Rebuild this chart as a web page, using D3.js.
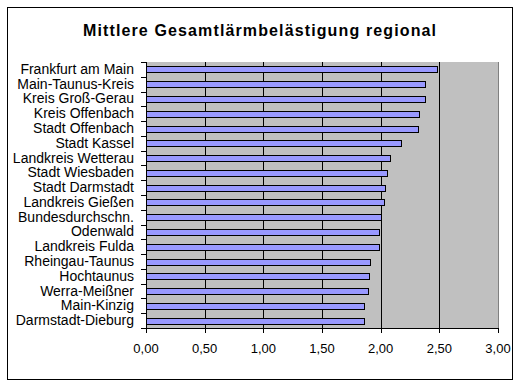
<!DOCTYPE html>
<html><head><meta charset="utf-8">
<script src="https://cdn.jsdelivr.net/npm/d3@7"></script>
<style>body{margin:0;background:#fff}svg{display:block}text{font-family:Arial,"Liberation Sans",sans-serif}</style>
</head><body><svg id="c" width="522" height="386"></svg>
<script>
const categories = ["Frankfurt am Main","Main-Taunus-Kreis","Kreis Groß-Gerau","Kreis Offenbach","Stadt Offenbach","Stadt Kassel","Landkreis Wetterau","Stadt Wiesbaden","Stadt Darmstadt","Landkreis Gießen","Bundesdurchschn.","Odenwald","Landkreis Fulda","Rheingau-Taunus","Hochtaunus","Werra-Meißner","Main-Kinzig","Darmstadt-Dieburg"];
const values = [2.48,2.38,2.38,2.33,2.32,2.17,2.08,2.05,2.04,2.03,2.00,1.99,1.99,1.91,1.90,1.89,1.86,1.86];
const xTicks = [0,0.5,1,1.5,2,2.5,3];
const title = "Mittlere Gesamtlärmbelästigung regional";

const svg = d3.select("#c");
const L=146, R=498, T=62, B=328;
const x = d3.scaleLinear().domain([0,3]).range([L,R]);
const y = d3.scaleBand().domain(categories).range([T,B]).paddingInner(0.6).paddingOuter(0.3);

svg.append("rect").attr("x",7.5).attr("y",7.5).attr("width",505).attr("height",372)
  .attr("fill","#fff").attr("stroke","#000");
svg.append("text").attr("x",259.5).attr("y",36).attr("text-anchor","middle")
  .attr("font-size",16).attr("font-weight","bold").attr("textLength",353).text(title);

svg.append("rect").attr("x",L).attr("y",T).attr("width",R-L).attr("height",B-T).attr("fill","#C0C0C0");
svg.append("line").attr("x1",R+0.5).attr("x2",R+0.5).attr("y1",T).attr("y2",B).attr("stroke","#808080");
svg.selectAll(".g").data(xTicks.filter(d=>d>0&&d<3)).join("line")
  .attr("x1",d=>Math.round(x(d))+0.5).attr("x2",d=>Math.round(x(d))+0.5)
  .attr("y1",T).attr("y2",B).attr("stroke","#000");

svg.selectAll(".bar").data(values).join("rect")
  .attr("x",L+0.5).attr("y",(d,i)=>Math.round(y(categories[i]))+0.5)
  .attr("width",d=>Math.round(x(d))-L).attr("height",Math.round(y.bandwidth()))
  .attr("fill","#9999FF").attr("stroke","#000");

// y axis
svg.append("line").attr("x1",L+0.5).attr("x2",L+0.5).attr("y1",T).attr("y2",B+1).attr("stroke","#000");
const step=y.step();
svg.selectAll(".yt").data(d3.range(categories.length+1)).join("line")
  .attr("x1",L-5).attr("x2",L).attr("y1",i=>Math.round(T+i*step)+0.5).attr("y2",i=>Math.round(T+i*step)+0.5).attr("stroke","#000");
svg.selectAll(".yl").data(categories).join("text")
  .attr("x",134).attr("y",d=>y(d)+y.bandwidth()/2+4.5).attr("text-anchor","end").attr("font-size",14).text(d=>d);

// x axis
svg.append("line").attr("x1",L).attr("x2",R+1).attr("y1",B+0.5).attr("y2",B+0.5).attr("stroke","#000");
svg.selectAll(".xt").data(xTicks).join("line")
  .attr("x1",d=>Math.round(x(d))+0.5).attr("x2",d=>Math.round(x(d))+0.5).attr("y1",B).attr("y2",B+5).attr("stroke","#000");
const fmt = d=>d3.format(".2f")(d).replace(".",",");
svg.selectAll(".xl").data(xTicks).join("text")
  .attr("x",d=>x(d)).attr("y",353).attr("text-anchor","middle").attr("font-size",13).text(fmt);
</script></body></html>
